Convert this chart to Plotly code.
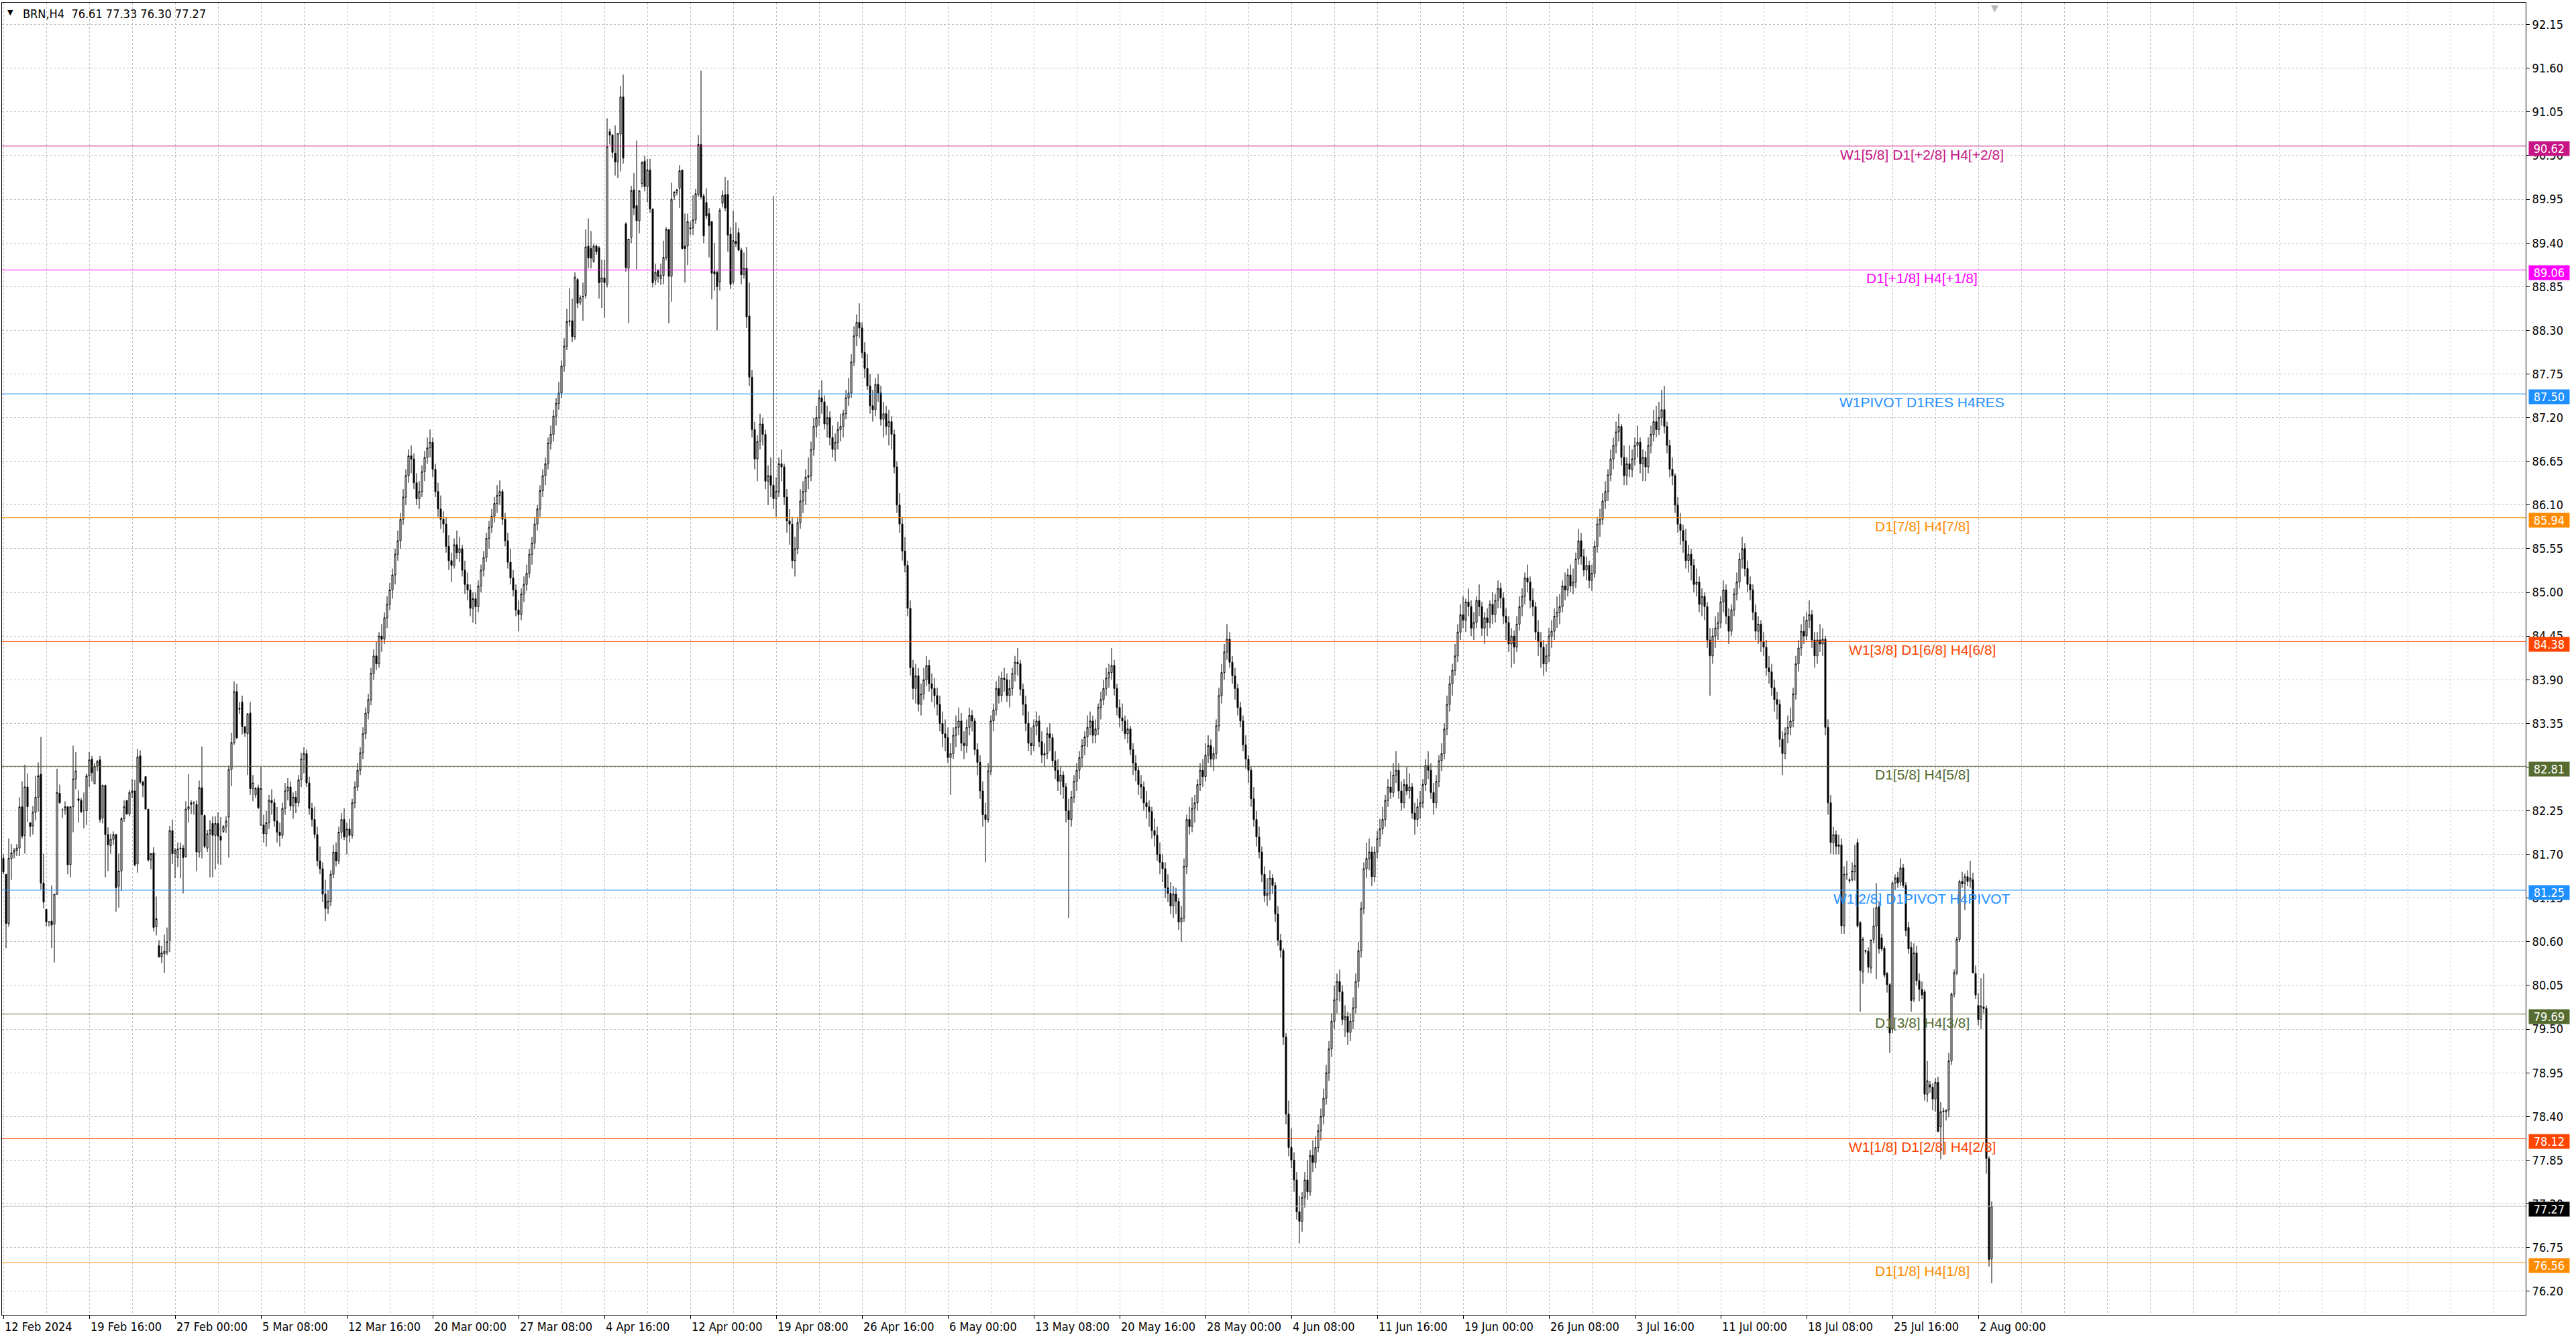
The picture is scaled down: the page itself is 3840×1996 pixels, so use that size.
import plotly.graph_objects as go

# ---------------- data (H4 bars, index 0 = 12 Feb 2024 00:00) ----------------
opens = [81.65,81.45,80.83,81.65,81.72,81.75,81.78,82.30,81.94,82.55,
         82.10,82.06,82.23,82.42,82.71,81.34,81.01,80.85,80.86,80.82,
         81.20,82.47,82.26,82.26,82.30,81.57,82.30,82.65,82.40,82.38,
         82.25,82.25,82.69,82.90,82.59,82.81,82.89,82.16,82.57,81.95,
         81.81,81.89,81.95,81.30,81.49,82.15,82.38,82.21,82.48,82.50,
         81.58,82.94,82.61,82.68,82.27,81.63,81.72,80.79,80.55,80.41,
         80.45,80.47,80.62,82.00,81.71,81.66,81.77,81.78,81.67,82.27,
         82.33,82.35,82.33,81.73,82.54,82.19,81.78,81.96,82.09,81.94,
         82.09,81.93,81.99,82.05,82.17,82.77,83.11,83.75,83.54,83.62,
         83.31,83.22,83.48,82.53,82.45,82.54,82.07,82.07,
         81.96,82.10,82.38,82.35,82.12,81.98,81.94,82.28,82.50,82.55,
         82.31,82.42,82.35,82.64,82.90,82.97,82.60,82.28,82.14,81.95,
         81.62,81.52,81.20,81.02,81.11,81.45,81.73,81.62,81.98,82.14,
         81.92,82.02,81.94,82.35,82.55,82.76,82.98,83.22,83.48,83.65,
         83.98,84.20,84.10,84.45,84.41,84.68,84.85,85.03,85.22,85.48,
         85.65,85.92,86.20,86.47,86.72,86.68,86.38,86.18,86.27,86.52,
         86.70,86.82,86.89,86.55,86.27,86.05,85.92,85.86,85.58,85.40,
         85.34,85.60,85.50,85.55,85.28,85.10,85.03,84.80,84.92,84.82,
         85.08,85.28,85.44,85.68,85.82,85.96,86.12,86.22,86.27,85.92,
         85.65,85.38,85.18,85.03,84.78,84.72,84.98,85.10,85.24,85.48,
         85.62,85.86,86.05,86.28,86.47,86.62,86.88,86.99,87.22,87.38,
         87.51,87.85,88.10,88.41,88.42,88.22,88.94,88.65,88.72,88.74,
         89.36,89.33,89.17,89.36,89.34,88.91,88.96,88.88,90.80,90.76,
         90.53,90.42,90.77,91.24,89.64,89.08,89.47,90.07,89.87,89.68,
         90.15,90.43,90.11,90.32,89.83,88.93,89.05,88.95,88.99,89.22,
         89.57,88.98,89.99,90.04,90.09,90.32,89.36,89.36,89.59,89.59,
         89.69,90.01,90.64,89.99,89.91,89.77,89.67,89.04,89.03,88.91,
         89.90,90.01,90.01,89.51,88.91,89.42,89.53,89.31,89.00,89.08,
         88.48,87.71,87.05,86.68,86.90,87.12,86.99,86.40,86.47,86.35,
         86.18,86.27,86.62,86.58,86.20,85.90,85.86,85.40,85.55,85.88,
         86.15,86.27,86.45,86.47,86.80,87.09,87.20,87.45,87.40,87.12,
         87.20,86.95,86.80,86.89,87.05,87.09,87.25,87.45,87.51,87.90,
         88.23,88.40,88.33,88.02,87.82,87.60,87.35,87.30,87.62,87.51,
         87.18,87.25,87.09,87.15,86.99,86.58,86.10,85.86,85.52,85.34,
         84.80,84.05,83.79,83.95,83.59,83.72,83.90,84.08,83.85,83.79,
         83.70,83.59,83.35,83.22,83.17,82.92,82.97,83.20,83.30,83.38,
         83.10,83.07,83.30,83.45,83.38,83.02,82.86,82.50,82.20,82.14,
         82.75,83.38,83.52,83.79,83.70,83.92,83.90,83.70,83.79,83.98,
         84.12,84.10,83.78,83.59,83.35,83.10,83.07,83.32,83.38,83.12,
         82.95,82.97,83.22,83.17,82.88,82.76,82.62,82.70,82.55,82.25,
         82.14,82.42,82.62,82.76,82.92,83.07,83.18,83.30,83.38,83.20,
         83.28,83.55,83.65,83.79,83.92,83.99,84.08,83.79,83.55,83.42,
         83.38,83.22,83.28,83.02,82.85,82.76,82.58,82.55,82.35,82.30,
         82.24,82.00,81.94,81.70,81.60,81.52,81.28,81.21,81.05,81.20,
         81.11,80.85,80.90,81.55,82.14,82.05,82.28,82.35,82.58,82.76,
         82.68,82.95,83.07,82.90,82.97,83.32,83.70,83.99,84.25,84.41,
         84.12,83.95,83.79,83.55,83.38,83.08,82.90,82.76,82.40,82.14,
         81.92,81.73,81.45,81.18,81.21,81.40,81.31,80.95,80.62,80.49,
         79.40,78.43,78.01,77.85,77.60,77.20,77.08,77.38,77.60,77.45,
         77.91,77.82,78.01,78.22,78.40,78.63,78.95,79.25,79.60,79.87,
         80.10,79.97,79.62,79.66,79.46,79.60,79.77,80.10,80.49,81.02,
         81.52,81.65,81.73,81.42,81.73,81.90,82.02,82.14,82.38,82.55,
         82.48,82.70,82.76,82.50,82.35,82.58,82.50,82.55,82.22,82.14,
         82.30,82.35,82.58,82.82,82.76,82.48,82.35,82.62,82.88,82.97,
         83.28,83.59,83.85,84.02,84.20,84.50,84.72,84.65,84.88,84.82,
         84.55,84.62,84.90,84.82,84.55,84.68,84.62,84.85,84.72,84.90,
         85.05,84.93,84.70,84.62,84.35,84.45,84.31,84.60,84.82,84.95,
         85.18,85.13,84.90,84.82,84.50,84.38,84.31,84.10,84.20,84.45,
         84.51,84.70,84.75,84.82,85.08,85.03,85.22,85.08,85.13,85.42,
         85.65,85.45,85.28,85.34,85.15,85.24,85.58,85.86,85.92,86.15,
         86.27,86.48,86.68,86.85,87.02,87.09,86.70,86.47,86.62,86.55,
         86.68,86.85,86.89,86.62,86.70,86.58,86.85,86.99,87.15,87.05,
         87.20,87.30,87.09,86.85,86.55,86.47,86.10,85.86,85.78,85.65,
         85.40,85.48,85.34,85.10,85.13,84.85,84.95,84.82,84.40,84.20,
         84.45,84.55,84.62,84.88,85.03,84.70,84.51,84.78,84.98,85.13,
         85.42,85.55,85.30,85.10,85.03,84.75,84.51,84.60,84.38,84.31,
         84.05,84.00,83.80,83.65,83.59,83.15,82.97,83.22,83.30,83.38,
         83.72,84.10,84.30,84.51,84.45,84.65,84.72,84.40,84.20,84.40,
         84.35,84.41,83.30,82.35,81.85,81.95,81.80,81.82,80.80,81.45,
         81.37,81.38,81.48,81.85,80.84,80.22,80.49,80.48,80.27,80.63,
         80.80,81.04,80.65,80.52,80.20,80.06,79.50,81.34,81.41,81.35,
         81.53,81.31,80.78,80.53,79.88,80.46,80.11,80.00,79.97,78.68,
         78.80,78.77,78.62,78.83,78.27,78.46,78.46,78.48,79.10,79.94,
         80.21,80.63,81.36,81.33,81.42,81.36,81.38,80.20,79.80,79.62,
         79.78,79.76,77.87,76.61]
highs = [81.70,81.45,81.90,81.83,81.78,81.83,82.42,82.62,82.83,82.72,
         82.10,82.31,82.69,82.86,83.18,81.71,81.01,80.86,81.31,81.20,
         82.78,82.58,82.28,82.37,82.31,82.31,83.07,82.99,82.51,82.41,
         82.48,82.72,82.99,82.94,82.85,82.89,82.94,82.58,82.58,82.04,
         81.96,81.99,81.96,81.71,82.17,82.38,82.38,82.51,82.65,82.64,
         83.03,83.01,82.63,82.68,82.27,81.71,81.79,81.17,80.62,80.55,
         80.69,80.78,82.06,82.14,81.78,81.85,81.85,81.82,82.37,82.71,
         82.38,82.37,82.38,82.63,83.06,82.20,82.01,82.13,82.18,82.18,
         82.23,82.17,82.07,82.18,82.82,83.23,83.88,83.85,83.62,83.70,
         83.31,83.48,83.62,82.70,82.55,82.58,82.80,82.20,
         82.25,82.45,82.52,82.40,82.30,82.10,82.35,82.60,82.66,82.62,
         82.48,82.50,82.70,82.98,83.05,83.02,82.68,82.35,82.30,82.05,
         81.80,81.60,81.38,81.25,81.50,81.82,81.85,82.05,82.22,82.28,
         82.10,82.15,82.40,82.62,82.85,83.05,83.30,83.55,83.72,84.05,
         84.28,84.38,84.50,84.60,84.75,84.95,85.12,85.30,85.55,85.78,
         86.00,86.30,86.55,86.80,86.85,86.75,86.50,86.40,86.60,86.78,
         86.95,87.05,86.95,86.62,86.38,86.22,86.02,85.95,85.72,85.50,
         85.68,85.78,85.70,85.60,85.40,85.25,85.10,85.00,85.00,85.15,
         85.35,85.52,85.75,85.90,86.05,86.20,86.35,86.41,86.30,86.00,
         85.75,85.55,85.28,85.10,84.90,85.05,85.20,85.35,85.55,85.70,
         85.95,86.10,86.35,86.55,86.70,86.95,87.10,87.30,87.45,87.65,
         87.92,88.20,88.57,88.83,88.70,89.03,88.96,88.74,88.90,89.57,
         89.71,89.55,89.39,89.38,89.36,89.19,89.19,90.97,90.84,90.77,
         90.88,90.78,91.38,91.52,89.66,89.45,90.12,90.28,90.69,90.06,
         90.43,90.50,90.46,90.46,89.83,89.14,89.07,89.14,89.43,89.60,
         89.57,90.16,90.05,90.08,90.38,90.32,89.77,89.77,89.67,90.00,
         90.08,90.76,91.57,90.02,90.09,89.84,89.67,89.40,89.05,89.84,
         90.06,90.23,90.19,89.60,89.81,89.66,89.59,89.34,89.28,89.35,
         88.90,87.80,87.15,86.98,87.25,87.20,87.05,86.60,86.70,89.99,
         86.45,86.70,86.80,86.62,86.30,86.05,85.95,85.70,85.95,86.30,
         86.40,86.55,86.70,86.90,87.20,87.35,87.55,87.67,87.48,87.35,
         87.28,87.10,87.00,87.15,87.25,87.30,87.55,87.70,88.00,88.35,
         88.50,88.64,88.40,88.15,88.00,87.75,87.55,87.70,87.75,87.60,
         87.40,87.35,87.30,87.22,87.05,86.65,86.25,85.95,85.70,85.40,
         84.90,84.15,84.10,84.05,83.85,84.05,84.20,84.15,83.98,83.92,
         83.80,83.70,83.50,83.40,83.30,83.10,83.30,83.45,83.55,83.48,
         83.25,83.40,83.55,83.52,83.42,83.10,82.95,82.62,82.35,82.85,
         83.45,83.60,83.88,83.95,84.00,84.05,83.98,83.90,84.05,84.20,
         84.30,84.15,83.85,83.70,83.50,83.30,83.40,83.50,83.45,83.25,
         83.10,83.30,83.35,83.22,83.00,82.90,82.80,82.75,82.60,82.40,
         82.50,82.70,82.85,83.00,83.15,83.25,83.45,83.50,83.45,83.40,
         83.60,83.75,83.90,84.05,84.10,84.30,84.15,83.85,83.65,83.60,
         83.45,83.40,83.32,83.10,82.95,82.80,82.70,82.62,82.50,82.38,
         82.30,82.15,82.05,81.85,81.70,81.60,81.45,81.35,81.30,81.28,
         81.15,81.05,81.65,82.20,82.30,82.42,82.45,82.65,82.85,82.90,
         83.10,83.20,83.15,83.05,83.40,83.80,84.10,84.35,84.60,84.50,
         84.20,84.05,83.85,83.62,83.45,83.20,82.95,82.80,82.55,82.25,
         82.05,81.80,81.55,81.40,81.50,81.45,81.35,81.05,80.70,80.52,
         79.45,78.60,78.25,77.95,77.70,77.40,77.45,77.70,77.85,77.98,
         78.10,78.15,78.30,78.50,78.75,79.05,79.35,79.70,80.05,80.20,
         80.25,80.05,79.80,79.72,79.70,79.90,80.20,80.60,81.10,81.60,
         81.85,81.90,81.80,81.80,82.00,82.15,82.30,82.45,82.65,82.75,
         82.85,83.00,82.85,82.62,82.65,82.80,82.72,82.60,82.35,82.40,
         82.50,82.65,82.90,83.00,82.85,82.60,82.70,82.95,83.10,83.35,
         83.70,83.95,84.10,84.35,84.60,84.85,84.95,84.92,85.05,84.90,
         84.75,84.95,85.10,84.88,84.75,84.80,84.90,85.00,84.98,85.15,
         85.12,85.00,84.80,84.70,84.55,84.52,84.70,84.95,85.05,85.25,
         85.35,85.20,85.05,84.88,84.65,84.50,84.40,84.35,84.55,84.65,
         84.80,84.95,84.98,85.15,85.25,85.30,85.35,85.30,85.50,85.80,
         85.75,85.55,85.45,85.40,85.35,85.65,85.95,86.05,86.25,86.40,
         86.55,86.80,86.95,87.15,87.25,87.12,86.85,86.70,86.85,86.80,
         86.95,87.10,86.95,86.80,86.78,86.95,87.10,87.30,87.35,87.40,
         87.55,87.60,87.15,86.92,86.70,86.50,86.20,86.00,85.85,85.80,
         85.60,85.55,85.42,85.30,85.20,85.05,85.00,84.88,84.55,84.55,
         84.70,84.75,84.95,85.15,85.10,84.80,84.85,85.05,85.25,85.50,
         85.70,85.62,85.40,85.20,85.10,84.85,84.70,84.65,84.50,84.40,
         84.20,84.10,83.90,83.75,83.65,83.25,83.30,83.45,83.55,83.80,
         84.20,84.40,84.60,84.70,84.75,84.90,84.78,84.50,84.50,84.60,
         84.55,84.45,83.40,82.45,82.05,82.00,81.95,81.90,81.55,81.62,
         81.40,81.60,81.82,81.90,80.86,80.66,80.50,80.53,80.63,81.03,
         81.34,81.11,80.70,80.55,80.22,80.08,81.36,81.45,81.48,81.65,
         81.58,81.35,80.85,80.60,80.58,80.55,80.20,80.10,80.00,79.10,
         78.85,78.82,78.88,78.90,78.58,78.51,78.49,79.20,79.96,80.25,
         80.66,81.38,81.48,81.46,81.50,81.62,81.47,80.30,79.95,80.14,
         80.20,79.80,77.90,77.33]
lows = [81.45,80.52,80.79,81.38,81.65,81.68,81.68,81.90,81.71,82.11,
        81.92,81.95,82.13,82.24,81.26,81.02,80.79,80.79,80.52,80.34,
        81.19,82.34,82.16,82.20,81.45,81.41,81.98,82.52,82.10,82.22,
        82.03,82.07,82.55,82.62,82.58,82.75,82.10,82.09,81.41,81.49,
        81.71,81.82,80.98,81.03,81.24,82.11,82.20,82.18,82.41,81.55,
        81.47,82.59,82.42,82.27,81.61,81.51,80.73,80.68,80.40,80.33,
        80.21,80.43,80.47,81.58,81.40,81.54,81.40,81.21,81.66,82.10,
        82.21,82.20,81.49,81.66,81.65,81.78,81.73,81.41,81.41,81.51,
        81.58,81.57,81.97,81.97,81.66,82.56,83.08,83.15,83.47,83.21,
        83.18,82.70,82.45,82.37,82.41,82.27,82.06,81.85,
        81.80,82.02,82.20,82.05,81.85,81.80,81.90,82.20,82.38,82.25,
        82.15,82.22,82.30,82.55,82.72,82.55,82.20,82.05,81.90,81.55,
        81.45,81.10,80.86,80.95,81.05,81.40,81.55,81.58,81.90,81.88,
        81.70,81.85,81.90,82.28,82.50,82.70,82.90,83.15,83.40,83.58,
        83.90,84.02,84.05,84.25,84.35,84.55,84.78,84.92,85.10,85.40,
        85.55,85.85,86.10,86.38,86.50,86.30,86.10,86.05,86.20,86.40,
        86.62,86.70,86.45,86.20,85.95,85.80,85.75,85.50,85.28,85.13,
        85.30,85.42,85.38,85.20,84.98,84.90,84.70,84.62,84.60,84.75,
        85.00,85.20,85.38,85.55,85.75,85.88,86.00,86.10,85.85,85.58,
        85.30,85.10,84.95,84.70,84.51,84.65,84.88,85.02,85.18,85.35,
        85.55,85.78,85.95,86.20,86.35,86.55,86.80,86.90,87.10,87.30,
        87.45,87.78,88.05,88.35,88.15,88.18,88.58,88.62,88.42,88.70,
        89.08,89.08,89.15,89.25,88.70,88.58,88.46,88.84,90.64,90.47,
        90.25,90.22,90.30,90.40,89.04,88.39,89.40,89.75,89.07,89.52,
        90.10,90.05,89.91,89.78,88.84,88.87,88.90,88.87,88.88,89.18,
        88.39,88.66,89.94,90.00,89.84,89.32,88.90,89.12,89.50,89.50,
        89.64,89.98,89.95,89.40,89.70,89.22,88.69,88.80,88.30,88.80,
        89.85,89.80,89.29,88.82,88.88,89.35,89.30,88.88,88.95,88.33,
        87.60,86.95,86.55,86.40,86.80,86.85,86.30,86.10,86.20,86.05,
        85.95,86.20,86.40,86.10,85.75,85.60,85.30,85.20,85.48,85.80,
        86.00,86.10,86.30,86.40,86.72,86.95,87.10,87.25,87.05,86.95,
        86.85,86.70,86.65,86.80,86.90,86.95,87.18,87.35,87.45,87.85,
        88.10,88.20,87.95,87.70,87.55,87.25,87.15,87.22,87.40,87.10,
        86.95,86.98,86.85,86.80,86.50,86.00,85.75,85.40,85.25,84.70,
        83.95,83.65,83.60,83.50,83.45,83.65,83.82,83.75,83.62,83.55,
        83.45,83.25,83.05,83.00,82.85,82.45,82.90,83.05,83.20,83.00,
        82.90,82.98,83.20,83.25,82.95,82.70,82.40,82.05,81.60,82.10,
        82.70,83.25,83.45,83.60,83.62,83.75,83.62,83.55,83.70,83.88,
        83.95,83.70,83.45,83.25,83.00,82.95,83.00,83.20,83.05,82.85,
        82.80,82.90,83.00,82.80,82.65,82.50,82.45,82.40,82.10,80.90,
        82.05,82.35,82.50,82.65,82.80,82.95,83.05,83.20,83.10,83.10,
        83.20,83.40,83.58,83.70,83.80,83.90,83.70,83.45,83.30,83.25,
        83.15,83.10,82.95,82.70,82.62,82.45,82.40,82.25,82.15,82.05,
        81.90,81.80,81.62,81.45,81.35,81.15,81.10,80.95,80.90,80.95,
        80.75,80.60,80.85,81.45,81.95,81.98,82.10,82.25,82.50,82.55,
        82.62,82.85,82.80,82.75,82.90,83.25,83.60,83.90,84.15,84.05,
        83.85,83.65,83.45,83.30,83.00,82.78,82.60,82.30,82.05,81.80,
        81.65,81.35,81.10,81.05,81.12,81.20,80.85,80.55,80.40,79.30,
        78.30,77.90,77.75,77.45,77.10,76.80,76.95,77.25,77.35,77.40,
        77.70,77.75,77.95,78.10,78.30,78.55,78.85,79.15,79.50,79.70,
        79.85,79.55,79.40,79.30,79.35,79.50,79.70,80.02,80.40,80.95,
        81.40,81.50,81.30,81.35,81.65,81.80,81.95,82.05,82.30,82.40,
        82.42,82.60,82.40,82.25,82.28,82.45,82.40,82.15,81.95,82.05,
        82.15,82.28,82.50,82.65,82.40,82.20,82.28,82.55,82.75,82.90,
        83.20,83.50,83.70,83.95,84.12,84.40,84.55,84.50,84.70,84.45,
        84.40,84.55,84.70,84.45,84.35,84.45,84.55,84.60,84.62,84.80,
        84.80,84.60,84.40,84.25,84.05,84.10,84.25,84.52,84.70,84.85,
        85.00,84.80,84.70,84.40,84.20,84.05,83.95,84.00,84.12,84.30,
        84.40,84.55,84.60,84.75,84.90,84.95,85.00,84.98,85.05,85.35,
        85.35,85.20,85.15,85.05,85.02,85.18,85.50,85.70,85.85,86.05,
        86.15,86.40,86.55,86.75,86.90,86.60,86.35,86.35,86.45,86.45,
        86.60,86.70,86.50,86.40,86.40,86.50,86.75,86.90,86.95,86.98,
        87.10,87.00,86.75,86.45,86.35,86.00,85.75,85.60,85.50,85.30,
        85.25,85.15,85.00,84.95,84.75,84.70,84.65,84.30,83.70,84.10,
        84.30,84.40,84.55,84.75,84.60,84.35,84.45,84.70,84.90,85.05,
        85.30,85.20,85.00,84.90,84.65,84.40,84.35,84.25,84.20,83.95,
        83.85,83.70,83.50,83.40,83.05,82.70,82.90,83.10,83.20,83.30,
        83.65,84.00,84.20,84.35,84.40,84.55,84.30,84.05,84.10,84.25,
        84.20,83.20,82.20,81.71,81.70,81.70,81.70,80.70,80.70,81.38,
        81.34,81.36,81.37,80.78,79.72,80.07,80.45,80.21,80.20,80.58,
        80.13,80.45,80.48,80.15,79.96,79.20,79.45,81.25,81.28,81.30,
        81.28,80.67,80.45,79.72,79.84,80.05,79.85,79.88,78.60,78.58,
        78.70,78.48,78.46,78.21,77.86,77.92,78.35,78.39,79.05,79.90,
        80.18,80.60,81.28,81.00,81.30,81.28,80.20,79.88,79.55,79.50,
        79.70,77.68,76.51,76.30]
closes = [81.48,80.83,81.65,81.72,81.75,81.78,82.30,81.93,82.55,82.30,
          82.05,82.23,82.42,82.69,81.34,81.10,80.85,80.85,80.81,81.20,
          82.48,82.35,82.26,82.30,81.57,82.30,82.65,82.75,82.38,82.24,
          82.25,82.69,82.89,82.73,82.81,82.87,82.14,82.57,81.95,81.82,
          81.89,81.95,81.28,81.49,82.15,82.30,82.21,82.48,82.50,81.57,
          82.93,82.61,82.57,82.27,81.63,81.71,80.78,80.89,80.41,80.46,
          80.48,80.60,82.00,81.71,81.75,81.77,81.78,81.66,82.27,82.30,
          82.35,82.35,81.73,82.54,82.20,81.80,81.96,82.01,81.94,82.09,
          81.93,81.88,82.05,82.12,82.77,83.11,83.75,83.17,83.53,83.31,
          83.23,83.47,82.53,82.60,82.53,82.29,82.53,81.96,
          82.10,82.38,82.35,82.12,81.98,81.94,82.28,82.50,82.55,82.31,
          82.42,82.35,82.64,82.90,82.97,82.60,82.28,82.14,81.95,81.62,
          81.52,81.20,81.02,81.11,81.45,81.73,81.62,81.98,82.14,81.92,
          82.02,81.94,82.35,82.55,82.76,82.98,83.22,83.48,83.65,83.98,
          84.20,84.10,84.45,84.41,84.68,84.85,85.03,85.22,85.48,85.65,
          85.92,86.20,86.47,86.72,86.68,86.38,86.18,86.27,86.52,86.70,
          86.82,86.89,86.55,86.27,86.05,85.92,85.86,85.58,85.40,85.34,
          85.60,85.50,85.55,85.28,85.10,85.03,84.80,84.92,84.82,85.08,
          85.28,85.44,85.68,85.82,85.96,86.12,86.22,86.27,85.92,85.65,
          85.38,85.18,85.03,84.78,84.72,84.98,85.10,85.24,85.48,85.62,
          85.86,86.05,86.28,86.47,86.62,86.88,86.99,87.22,87.38,87.51,
          87.85,88.10,88.41,88.42,88.22,88.97,88.64,88.71,88.73,89.35,
          89.21,89.21,89.36,89.29,88.90,88.96,88.90,90.61,90.76,90.54,
          90.42,90.78,91.24,90.47,89.09,89.45,90.06,89.84,89.68,90.06,
          90.41,90.11,90.32,89.83,88.90,89.03,88.98,88.99,89.22,89.57,
          88.98,89.95,90.04,90.07,90.31,89.33,89.33,89.67,89.58,89.69,
          90.02,90.64,89.98,89.49,89.74,89.62,89.02,89.01,88.85,89.81,
          90.00,89.84,89.50,88.88,89.43,89.39,89.31,89.00,89.08,88.47,
          87.71,87.05,86.68,86.90,87.12,86.99,86.40,86.47,86.35,86.18,
          86.27,86.62,86.58,86.20,85.90,85.86,85.40,85.55,85.88,86.15,
          86.27,86.45,86.47,86.80,87.09,87.20,87.45,87.40,87.12,87.20,
          86.95,86.80,86.89,87.05,87.09,87.25,87.45,87.51,87.90,88.23,
          88.40,88.33,88.02,87.82,87.60,87.35,87.30,87.62,87.51,87.18,
          87.25,87.09,87.15,86.99,86.58,86.10,85.86,85.52,85.34,84.80,
          84.05,83.79,83.95,83.59,83.72,83.90,84.08,83.85,83.79,83.70,
          83.59,83.35,83.22,83.17,82.92,82.97,83.20,83.30,83.38,83.10,
          83.07,83.30,83.45,83.38,83.02,82.86,82.50,82.20,82.14,82.75,
          83.38,83.52,83.79,83.70,83.92,83.90,83.70,83.79,83.98,84.12,
          84.10,83.78,83.59,83.35,83.10,83.07,83.32,83.38,83.12,82.95,
          82.97,83.22,83.17,82.88,82.76,82.62,82.70,82.55,82.25,82.14,
          82.42,82.62,82.76,82.92,83.07,83.18,83.30,83.38,83.20,83.28,
          83.55,83.65,83.79,83.92,83.99,84.08,83.79,83.55,83.42,83.38,
          83.22,83.28,83.02,82.85,82.76,82.58,82.55,82.35,82.30,82.24,
          82.00,81.94,81.70,81.60,81.52,81.28,81.21,81.05,81.20,81.11,
          80.85,80.90,81.55,82.14,82.05,82.28,82.35,82.58,82.76,82.68,
          82.95,83.07,82.90,82.97,83.32,83.70,83.99,84.25,84.41,84.12,
          83.95,83.79,83.55,83.38,83.08,82.90,82.76,82.40,82.14,81.92,
          81.73,81.45,81.18,81.21,81.40,81.31,80.95,80.62,80.49,79.40,
          78.43,78.01,77.85,77.60,77.20,77.08,77.38,77.60,77.45,77.91,
          77.82,78.01,78.22,78.40,78.63,78.95,79.25,79.60,79.87,80.10,
          79.97,79.62,79.66,79.46,79.60,79.77,80.10,80.49,81.02,81.52,
          81.65,81.73,81.42,81.73,81.90,82.02,82.14,82.38,82.55,82.48,
          82.70,82.76,82.50,82.35,82.58,82.50,82.55,82.22,82.14,82.30,
          82.35,82.58,82.82,82.76,82.48,82.35,82.62,82.88,82.97,83.28,
          83.59,83.85,84.02,84.20,84.50,84.72,84.65,84.88,84.82,84.55,
          84.62,84.90,84.82,84.55,84.68,84.62,84.85,84.72,84.90,85.05,
          84.93,84.70,84.62,84.35,84.45,84.31,84.60,84.82,84.95,85.18,
          85.13,84.90,84.82,84.50,84.38,84.31,84.10,84.20,84.45,84.51,
          84.70,84.75,84.82,85.08,85.03,85.22,85.08,85.13,85.42,85.65,
          85.45,85.28,85.34,85.15,85.24,85.58,85.86,85.92,86.15,86.27,
          86.48,86.68,86.85,87.02,87.09,86.70,86.47,86.62,86.55,86.68,
          86.85,86.89,86.62,86.70,86.58,86.85,86.99,87.15,87.05,87.20,
          87.30,87.09,86.85,86.55,86.47,86.10,85.86,85.78,85.65,85.40,
          85.48,85.34,85.10,85.13,84.85,84.95,84.82,84.40,84.20,84.45,
          84.55,84.62,84.88,85.03,84.70,84.51,84.78,84.98,85.13,85.42,
          85.55,85.30,85.10,85.03,84.75,84.51,84.60,84.38,84.31,84.05,
          84.00,83.80,83.65,83.59,83.15,82.97,83.22,83.30,83.38,83.72,
          84.10,84.30,84.51,84.45,84.65,84.72,84.40,84.20,84.40,84.35,
          84.41,83.30,82.35,81.85,81.95,81.80,81.82,80.80,81.45,81.45,
          81.38,81.49,81.56,80.80,80.24,80.63,80.48,80.28,80.62,80.80,
          81.03,80.51,80.51,80.18,80.06,79.45,81.34,81.40,81.34,81.53,
          81.31,80.74,80.51,79.86,80.46,80.11,80.00,79.93,78.68,78.85,
          78.77,78.62,78.83,78.21,78.46,78.47,78.48,79.10,79.94,80.21,
          80.63,81.36,81.33,81.42,81.36,81.40,80.21,79.93,79.62,79.79,
          79.76,77.87,76.60,77.27]

x_tick_bars = [0,32,64,96,128,160,192,224,256,288,320,352,384,416,448,480,
               512,544,576,608,640,672,704,736]
x_tick_labels = ["12 Feb 2024","19 Feb 16:00","27 Feb 00:00","5 Mar 08:00",
                 "12 Mar 16:00","20 Mar 00:00","27 Mar 08:00","4 Apr 16:00",
                 "12 Apr 00:00","19 Apr 08:00","26 Apr 16:00","6 May 00:00",
                 "13 May 08:00","20 May 16:00","28 May 00:00","4 Jun 08:00",
                 "11 Jun 16:00","19 Jun 00:00","26 Jun 08:00","3 Jul 16:00",
                 "11 Jul 00:00","18 Jul 08:00","25 Jul 16:00","2 Aug 00:00"]
x_grid_bars = [16,48,80,112,144,176,208,240,272,304,336,368,400,432,464,496,
               528,560,592,624,656,688,720,752,768,784,800,816,832,848,864,
               880,896,912,928]
y_ticks = [76.20,76.75,77.30,77.85,78.40,78.95,79.50,80.05,80.60,81.15,81.70,
           82.25,82.80,83.35,83.90,84.45,85.00,85.55,86.10,86.65,87.20,87.75,
           88.30,88.85,89.40,89.95,90.50,91.05,91.60,92.15]

level_values = [90.62,89.06,87.50,85.94,84.38,82.81,81.25,79.69,78.12,76.56]
level_labels = ["W1[5/8] D1[+2/8] H4[+2/8]","D1[+1/8] H4[+1/8]",
                "W1PIVOT D1RES H4RES","D1[7/8] H4[7/8]",
                "W1[3/8] D1[6/8] H4[6/8]","D1[5/8] H4[5/8]",
                "W1[2/8] D1PIVOT H4PIVOT","D1[3/8] H4[3/8]",
                "W1[1/8] D1[2/8] H4[2/8]","D1[1/8] H4[1/8]"]
level_colors = ["#C71585","#FF00FF","#1E90FF","#FF8C00","#FF4500",
                "#556B2F","#1E90FF","#556B2F","#FF4500","#FF8C00"]
level_label_bar = 715
shift_marker_bar = 742

last_price = 77.27
header_text = "BRN,H4\u00a0\u00a076.61 77.33 76.30 77.27"

# ---------------- figure ----------------
AXFONT = "DejaVu Sans Condensed, DejaVu Sans, sans-serif"
W, H = 3840, 1996
ML, MR, MT, MB = 3, 75, 4, 36

n = min(len(opens), len(highs), len(lows), len(closes))

fig = go.Figure()
fig.add_trace(go.Candlestick(
    x=list(range(n)), open=opens[:n], high=highs[:n], low=lows[:n], close=closes[:n],
    increasing=dict(fillcolor="white", line=dict(color="black", width=1)),
    decreasing=dict(fillcolor="black", line=dict(color="black", width=1)),
    whiskerwidth=0, showlegend=False, hoverinfo="skip"))

shapes = []
for v, c in zip(level_values, level_colors):
    shapes.append(dict(type="line", xref="paper", x0=0, x1=1, yref="y", y0=v, y1=v,
                       line=dict(color=c, width=1), layer="above"))
shapes.append(dict(type="line", xref="paper", x0=0, x1=1, yref="y", y0=last_price,
                   y1=last_price, line=dict(color="#C0C0C0", width=1), layer="above"))

annotations = []
for v, t, c in zip(level_values, level_labels, level_colors):
    annotations.append(dict(x=level_label_bar, y=v, xref="x", yref="y", text=t,
                            showarrow=False, xanchor="center", yanchor="top",
                            borderpad=0,
                            font=dict(family="Liberation Sans, Arial", size=21, color=c)))
    annotations.append(dict(x=1, y=v, xref="paper", yref="y", text=f"{v:.2f}",
                            showarrow=False, xanchor="left", yanchor="middle",
                            xshift=4, yshift=-4,
                            bgcolor=c, width=56, height=17, borderpad=2, align="center",
                            font=dict(family=AXFONT, size=18, color="white")))
annotations.append(dict(x=1, y=last_price, xref="paper", yref="y", text=f"{last_price:.2f}",
                        showarrow=False, xanchor="left", yanchor="middle",
                        xshift=4, yshift=-4,
                        bgcolor="black", width=56, height=17, borderpad=2, align="center",
                        font=dict(family=AXFONT, size=18, color="white")))
for b, t in zip(x_tick_bars, x_tick_labels):
    annotations.append(dict(x=b, y=0, xref="x", yref="paper", text=t, showarrow=False,
                            xanchor="left", yanchor="top", xshift=0, yshift=-5,
                            font=dict(family=AXFONT, size=18, color="black")))
annotations.append(dict(x=0, y=1, xref="paper", yref="paper", text="\u25bc",
                        showarrow=False, xanchor="left", yanchor="top", xshift=6, yshift=-6,
                        font=dict(family="DejaVu Sans", size=11, color="black")))
annotations.append(dict(x=0, y=1, xref="paper", yref="paper", text=header_text,
                        showarrow=False, xanchor="left", yanchor="top", xshift=29, yshift=-4,
                        font=dict(family=AXFONT, size=18, color="black")))
annotations.append(dict(x=shift_marker_bar, y=1, xref="x", yref="paper", text="\u25bc",
                        showarrow=False, xanchor="center", yanchor="top", yshift=2,
                        font=dict(family="DejaVu Sans", size=14, color="#B8B8B8")))

fig.update_layout(
    width=W, height=H, margin=dict(l=ML, r=MR, t=MT, b=MB, pad=0),
    paper_bgcolor="white", plot_bgcolor="white", showlegend=False,
    boxgap=0.5, boxgroupgap=0,
    shapes=shapes, annotations=annotations,
    xaxis=dict(range=[-0.5, 940], rangeslider=dict(visible=False),
               tickmode="array", tickvals=x_tick_bars, ticktext=[""] * len(x_tick_bars),
               ticks="outside", ticklen=5, tickcolor="black", tickwidth=1,
               showgrid=True, gridcolor="#C0C0C0", gridwidth=1, griddash="3px,3px",
               minor=dict(tickmode="array", tickvals=x_grid_bars, showgrid=True,
                          gridcolor="#C0C0C0", gridwidth=1, griddash="3px,3px", ticks=""),
               showline=True, linecolor="black", linewidth=1, mirror=True,
               zeroline=False, fixedrange=True),
    yaxis=dict(range=[75.902, 92.426], side="right",
               tickmode="array", tickvals=y_ticks, ticktext=[f"{v:.2f}" for v in y_ticks],
               ticks="outside", ticklen=5, tickcolor="black", tickwidth=1,
               tickfont=dict(family=AXFONT, size=18, color="black"),
               showgrid=True, gridcolor="#C0C0C0", gridwidth=1, griddash="3px,3px",
               showline=True, linecolor="black", linewidth=1, mirror=True,
               zeroline=False, fixedrange=True),
)

fig.write_html("out.html", config={"displayModeBar": False},
               post_script="document.body.style.margin='0';document.body.style.overflow='hidden';")
